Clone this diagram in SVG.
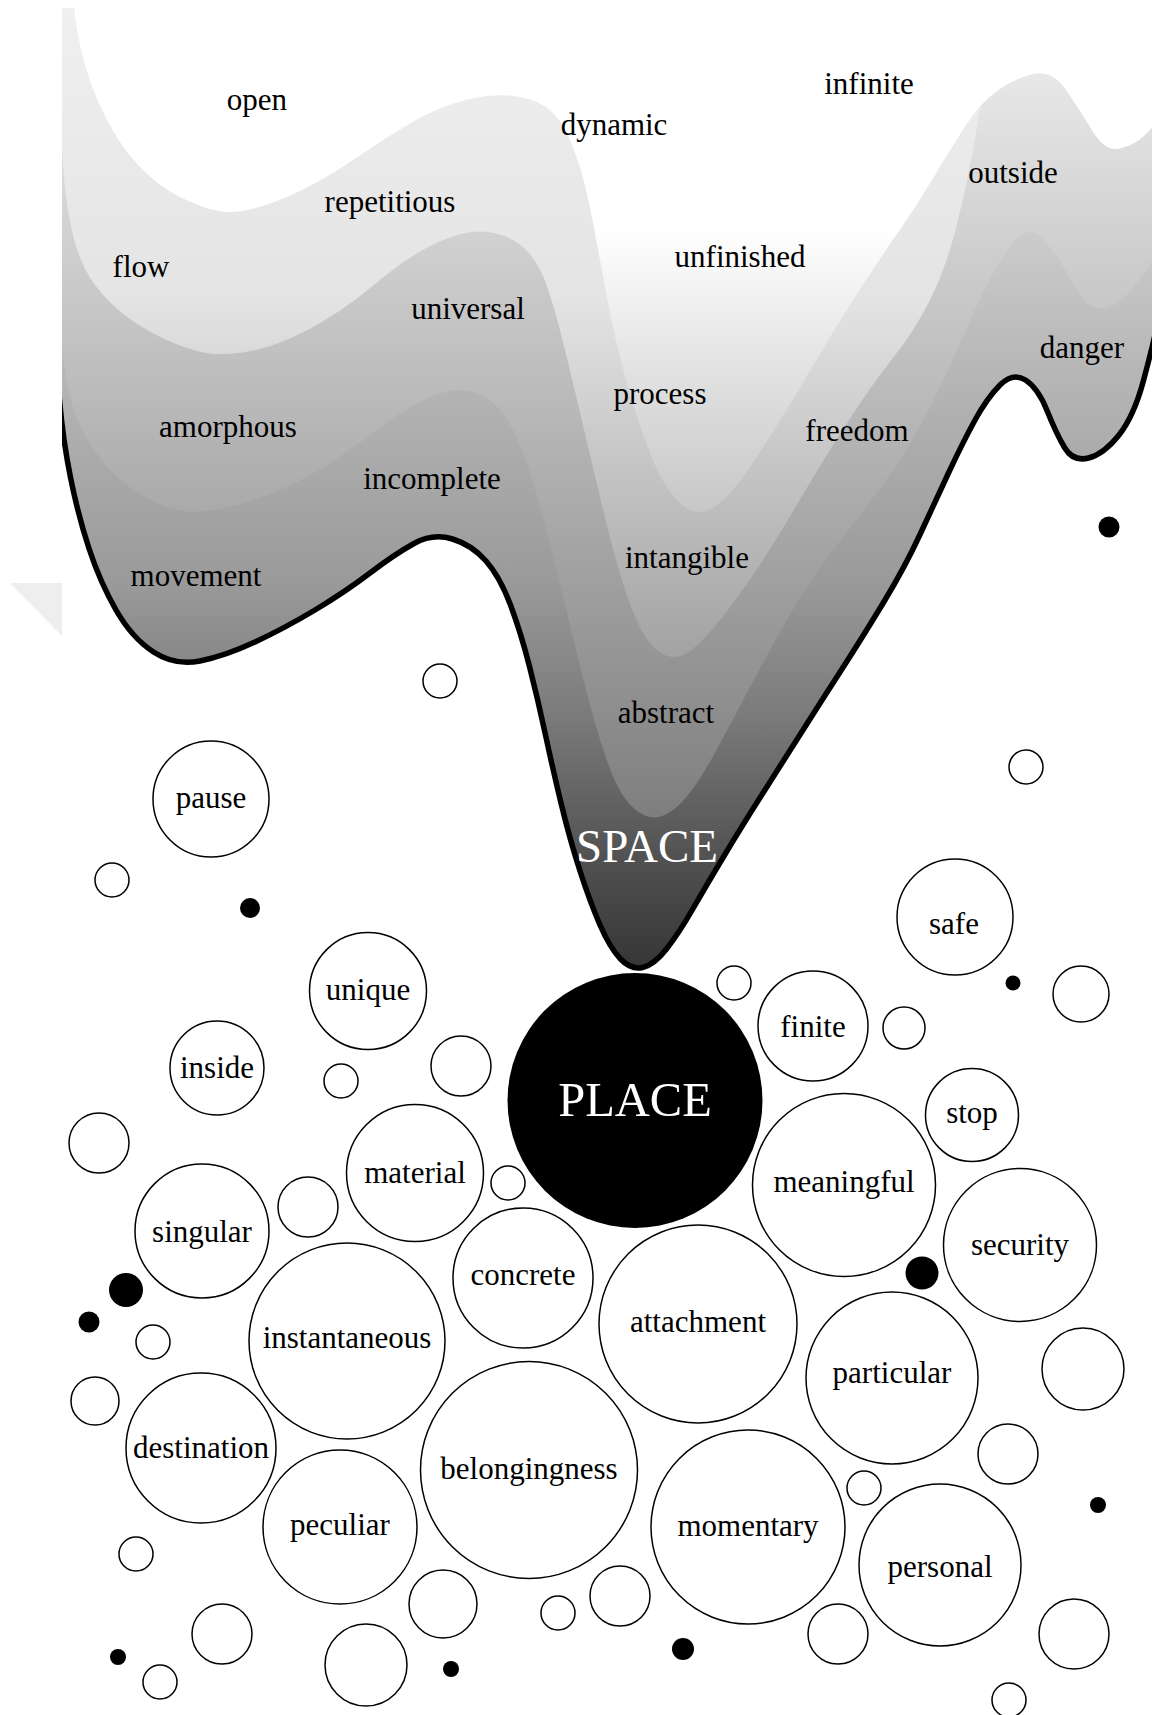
<svg xmlns="http://www.w3.org/2000/svg" width="1152" height="1715" viewBox="0 0 1152 1715">
<defs>
<style>
.c{fill:#fff;stroke:#000;stroke-width:1.5}
.dot{fill:#000}
.lbl{font-family:"Liberation Serif","Times New Roman",serif;font-size:31px;text-anchor:middle;fill:#000}
.big{font-size:47px;fill:#fff}
</style>
<clipPath id="clipSpace"><rect x="62" y="8" width="1090" height="1000"/></clipPath>
<linearGradient id="gA" gradientUnits="userSpaceOnUse" x1="0" y1="0" x2="0" y2="520">
<stop offset="0" stop-color="#ffffff"/><stop offset="0.44" stop-color="#ffffff"/><stop offset="0.77" stop-color="#dcdcdc"/><stop offset="1" stop-color="#c6c6c6"/>
</linearGradient>
<linearGradient id="gB" gradientUnits="userSpaceOnUse" x1="0" y1="0" x2="0" y2="660">
<stop offset="0" stop-color="#f0f0f0"/><stop offset="0.45" stop-color="#e4e4e4"/><stop offset="0.68" stop-color="#c8c8c8"/><stop offset="1" stop-color="#a2a2a2"/>
</linearGradient>
<linearGradient id="gC" gradientUnits="userSpaceOnUse" x1="0" y1="0" x2="0" y2="820">
<stop offset="0" stop-color="#f2f2f2"/><stop offset="1" stop-color="#7e7e7e"/>
</linearGradient>
<linearGradient id="gD" gradientUnits="userSpaceOnUse" x1="0" y1="0" x2="0" y2="970">
<stop offset="0" stop-color="#f0f0f0"/><stop offset="0.37" stop-color="#b8b8b8"/><stop offset="0.6" stop-color="#9a9a9a"/><stop offset="0.74" stop-color="#7a7a7a"/><stop offset="0.89" stop-color="#505050"/><stop offset="1" stop-color="#353535"/>
</linearGradient>
</defs>
<rect x="0" y="0" width="1152" height="1715" fill="#fff"/>

<g id="space">
<g clip-path="url(#clipSpace)">
<path fill="url(#gD)" d="M 56 360 L 59.5 400 Q 63 440 70.5 477.5 Q 78 515 89 548.5 Q 100 582 116 610 Q 132 638 153.5 652 Q 175 666 200 661 Q 225 656 255 642 Q 285 628 315 610 Q 345 592 370 573 Q 395 554 414 543.5 Q 433 533 452.5 539 Q 472 545 486 561 Q 500 577 510.5 605 Q 521 633 529.5 666.5 Q 538 700 545.5 735 Q 553 770 561.5 805 Q 570 840 580 871 Q 590 902 600 925 Q 610 948 620.5 959 Q 631 970 642.5 967.5 Q 654 965 666.5 949 Q 679 933 692.5 909.5 Q 706 886 724 856 Q 742 826 763 793 Q 784 760 803 730 Q 822 700 842 669 Q 862 638 883.5 602.5 Q 905 567 920 534.5 Q 935 502 948.5 473 Q 962 444 974.5 421 Q 987 398 1000 385 Q 1013 372 1025.5 380 Q 1038 388 1047 410.5 Q 1056 433 1064.5 447.5 Q 1073 462 1088.5 458 Q 1104 454 1119 435 Q 1134 416 1143.5 380.5 Q 1153 345 1156.5 327.5 L 1160 310 L 1160 -10 L 40 -10 L 40 360 Z"/>
<path fill="url(#gC)" d="M 60 330 L 64 362.5 Q 68 395 76.5 417.5 Q 85 440 102.5 461 Q 120 482 140 494 Q 160 506 177.5 510 Q 195 514 220 509 Q 245 504 275 492 Q 305 480 332.5 461.5 Q 360 443 385 424 Q 410 405 434 395.5 Q 458 386 476.5 393 Q 495 400 507.5 420 Q 520 440 530 472.5 Q 540 505 549 540 Q 558 575 567 612.5 Q 576 650 585.5 687.5 Q 595 725 605 755 Q 615 785 625 798.5 Q 635 812 646 816 Q 657 820 668.5 813 Q 680 806 691.5 790.5 Q 703 775 716.5 750 Q 730 725 745 696.5 Q 760 668 780 632 Q 800 596 820 568 Q 840 540 860 515 Q 880 490 897.5 463.5 Q 915 437 932.5 402 Q 950 367 966 330 Q 982 293 995 270 Q 1008 247 1020 236.5 Q 1032 226 1044.5 240.5 Q 1057 255 1067 273 Q 1077 291 1086 301.5 Q 1095 312 1109 307 Q 1123 302 1137.5 282 Q 1152 262 1158.5 248.5 L 1165 235 L 1165 -10 L 40 -10 L 40 330 Z"/>
<path fill="url(#gB)" d="M 62 150 L 64 177.5 Q 66 205 73 235 Q 80 265 95 285 Q 110 305 130 319 Q 150 333 170 341.5 Q 190 350 206 353 Q 222 356 248.5 351.5 Q 275 347 307.5 330 Q 340 313 370 288 Q 400 263 420 251.5 Q 440 240 459 234.5 Q 478 229 496.5 233.5 Q 515 238 527.5 251.5 Q 540 265 547.5 287.5 Q 555 310 562.5 340 Q 570 370 580 412.5 Q 590 455 602.5 507.5 Q 615 560 626.5 594 Q 638 628 649 642 Q 660 656 672.5 657 Q 685 658 702.5 640 Q 720 622 745 586.5 Q 770 551 796.5 505.5 Q 823 460 848 421.5 Q 873 383 894 356.5 Q 915 330 930 300 Q 945 270 955.5 230 Q 966 190 973 150 Q 980 110 986 75 Q 992 40 996 15 L 1000 -10 L 40 -10 L 40 150 Z"/>
<path fill="url(#gA)" d="M 72 -10 L 75 15 Q 78 40 85 65 Q 92 90 106 118 Q 120 146 139 166 Q 158 186 180 197 Q 202 208 218 211 Q 234 214 256 208 Q 278 202 304 189 Q 330 176 357.5 157 Q 385 138 412.5 122 Q 440 106 467.5 99.5 Q 495 93 517.5 96.5 Q 540 100 552.5 112.5 Q 565 125 575 152.5 Q 585 180 592.5 220 Q 600 260 607.5 300 Q 615 340 626.5 381.5 Q 638 423 651 455.5 Q 664 488 679.5 502.5 Q 695 517 710 509.5 Q 725 502 740 481 Q 755 460 772.5 432.5 Q 790 405 815 362.5 Q 840 320 861.5 287 Q 883 254 900 229.5 Q 917 205 933.5 177.5 Q 950 150 965 126.5 Q 980 103 997.5 90.5 Q 1015 78 1033.5 74 Q 1052 70 1066 90 Q 1080 110 1092.5 131 Q 1105 152 1120 148.5 Q 1135 145 1145 135 Q 1155 125 1160 117.5 L 1165 110 L 1165 -10 Z"/>
<path fill="none" stroke="#000" stroke-width="5.5" d="M 56 360 L 59.5 400 Q 63 440 70.5 477.5 Q 78 515 89 548.5 Q 100 582 116 610 Q 132 638 153.5 652 Q 175 666 200 661 Q 225 656 255 642 Q 285 628 315 610 Q 345 592 370 573 Q 395 554 414 543.5 Q 433 533 452.5 539 Q 472 545 486 561 Q 500 577 510.5 605 Q 521 633 529.5 666.5 Q 538 700 545.5 735 Q 553 770 561.5 805 Q 570 840 580 871 Q 590 902 600 925 Q 610 948 620.5 959 Q 631 970 642.5 967.5 Q 654 965 666.5 949 Q 679 933 692.5 909.5 Q 706 886 724 856 Q 742 826 763 793 Q 784 760 803 730 Q 822 700 842 669 Q 862 638 883.5 602.5 Q 905 567 920 534.5 Q 935 502 948.5 473 Q 962 444 974.5 421 Q 987 398 1000 385 Q 1013 372 1025.5 380 Q 1038 388 1047 410.5 Q 1056 433 1064.5 447.5 Q 1073 462 1088.5 458 Q 1104 454 1119 435 Q 1134 416 1143.5 380.5 Q 1153 345 1156.5 327.5 L 1160 310"/>
</g>
<polygon points="10,583 62,583 62,636" fill="#eeeeee"/>
<text class="lbl" x="257" y="110">open</text>
<text class="lbl" x="390" y="212">repetitious</text>
<text class="lbl" x="141" y="277">flow</text>
<text class="lbl" x="468" y="319">universal</text>
<text class="lbl" x="228" y="437">amorphous</text>
<text class="lbl" x="432" y="489">incomplete</text>
<text class="lbl" x="196" y="586">movement</text>
<text class="lbl" x="869" y="94">infinite</text>
<text class="lbl" x="614" y="135">dynamic</text>
<text class="lbl" x="1013" y="183">outside</text>
<text class="lbl" x="740" y="267">unfinished</text>
<text class="lbl" x="660" y="404">process</text>
<text class="lbl" x="857" y="441">freedom</text>
<text class="lbl" x="1082" y="358">danger</text>
<text class="lbl" x="687" y="568">intangible</text>
<text class="lbl" x="666" y="723">abstract</text>
<text class="lbl big" x="647" y="862">SPACE</text>
</g>

<g id="connectors"></g>

<g id="place"><circle cx="635" cy="1100.5" r="127.5" fill="#000"/><text class="lbl big" x="635" y="1116" style="font-size:48.5px">PLACE</text></g>
<g id="n-pause"><circle class="c" cx="211" cy="799" r="58"/><text class="lbl" x="211" y="808">pause</text></g>
<g id="n-safe"><circle class="c" cx="955" cy="917" r="58"/><text class="lbl" x="954" y="934">safe</text></g>
<g id="n-unique"><circle class="c" cx="368" cy="991" r="58.5"/><text class="lbl" x="368" y="1000">unique</text></g>
<g id="n-inside"><circle class="c" cx="217" cy="1068" r="47"/><text class="lbl" x="217" y="1078">inside</text></g>
<g id="n-finite"><circle class="c" cx="813" cy="1026" r="55"/><text class="lbl" x="813" y="1037">finite</text></g>
<g id="n-stop"><circle class="c" cx="972" cy="1115" r="46.5"/><text class="lbl" x="972" y="1123">stop</text></g>
<g id="n-material"><circle class="c" cx="415" cy="1173" r="68.5"/><text class="lbl" x="415" y="1183">material</text></g>
<g id="n-meaningful"><circle class="c" cx="844" cy="1185" r="91.5"/><text class="lbl" x="844" y="1192">meaningful</text></g>
<g id="n-singular"><circle class="c" cx="202" cy="1231" r="67"/><text class="lbl" x="202" y="1242">singular</text></g>
<g id="n-security"><circle class="c" cx="1020" cy="1245" r="76.5"/><text class="lbl" x="1020" y="1255">security</text></g>
<g id="n-concrete"><circle class="c" cx="523" cy="1278" r="70"/><text class="lbl" x="523" y="1285">concrete</text></g>
<g id="n-attachment"><circle class="c" cx="698" cy="1324" r="99"/><text class="lbl" x="698" y="1332">attachment</text></g>
<g id="n-instantaneous"><circle class="c" cx="347" cy="1341" r="98"/><text class="lbl" x="347" y="1348">instantaneous</text></g>
<g id="n-particular"><circle class="c" cx="892" cy="1378" r="86"/><text class="lbl" x="892" y="1383">particular</text></g>
<g id="n-destination"><circle class="c" cx="201" cy="1448" r="75"/><text class="lbl" x="201" y="1458">destination</text></g>
<g id="n-belongingness"><circle class="c" cx="529" cy="1470" r="108.5"/><text class="lbl" x="529" y="1479">belongingness</text></g>
<g id="n-peculiar"><circle class="c" cx="340" cy="1527" r="77"/><text class="lbl" x="340" y="1535">peculiar</text></g>
<g id="n-momentary"><circle class="c" cx="748" cy="1527" r="97"/><text class="lbl" x="748" y="1536">momentary</text></g>
<g id="n-personal"><circle class="c" cx="940" cy="1565" r="81"/><text class="lbl" x="940" y="1577">personal</text></g>

<g id="bubbles">
<circle class="c" cx="440" cy="681" r="17"/>
<circle class="c" cx="1026" cy="767" r="17"/>
<circle class="c" cx="112" cy="880" r="17"/>
<circle class="c" cx="734" cy="983" r="17"/>
<circle class="c" cx="1081" cy="994" r="28"/>
<circle class="c" cx="904" cy="1028" r="21"/>
<circle class="c" cx="461" cy="1066" r="30"/>
<circle class="c" cx="341" cy="1081" r="17"/>
<circle class="c" cx="99" cy="1143" r="30"/>
<circle class="c" cx="308" cy="1207" r="30"/>
<circle class="c" cx="508" cy="1183" r="17"/>
<circle class="c" cx="153" cy="1342" r="17"/>
<circle class="c" cx="1083" cy="1369" r="41"/>
<circle class="c" cx="95" cy="1401" r="24"/>
<circle class="c" cx="1008" cy="1454" r="30"/>
<circle class="c" cx="864" cy="1488" r="17"/>
<circle class="c" cx="136" cy="1554" r="17"/>
<circle class="c" cx="443" cy="1604" r="34"/>
<circle class="c" cx="558" cy="1613" r="17"/>
<circle class="c" cx="620" cy="1596" r="30"/>
<circle class="c" cx="222" cy="1634" r="30"/>
<circle class="c" cx="838" cy="1634" r="30"/>
<circle class="c" cx="1074" cy="1634" r="35"/>
<circle class="c" cx="160" cy="1682" r="17"/>
<circle class="c" cx="366" cy="1665" r="41"/>
<circle class="c" cx="1009" cy="1700" r="17"/>
<circle class="dot" cx="1109" cy="527" r="10.5"/>
<circle class="dot" cx="250" cy="908" r="10"/>
<circle class="dot" cx="1013" cy="983" r="7.5"/>
<circle class="dot" cx="922" cy="1273" r="16.5"/>
<circle class="dot" cx="126" cy="1290" r="17"/>
<circle class="dot" cx="89" cy="1322" r="10.5"/>
<circle class="dot" cx="1098" cy="1505" r="8"/>
<circle class="dot" cx="683" cy="1649" r="11"/>
<circle class="dot" cx="118" cy="1657" r="8"/>
<circle class="dot" cx="451" cy="1669" r="8"/>
</g>
</svg>
